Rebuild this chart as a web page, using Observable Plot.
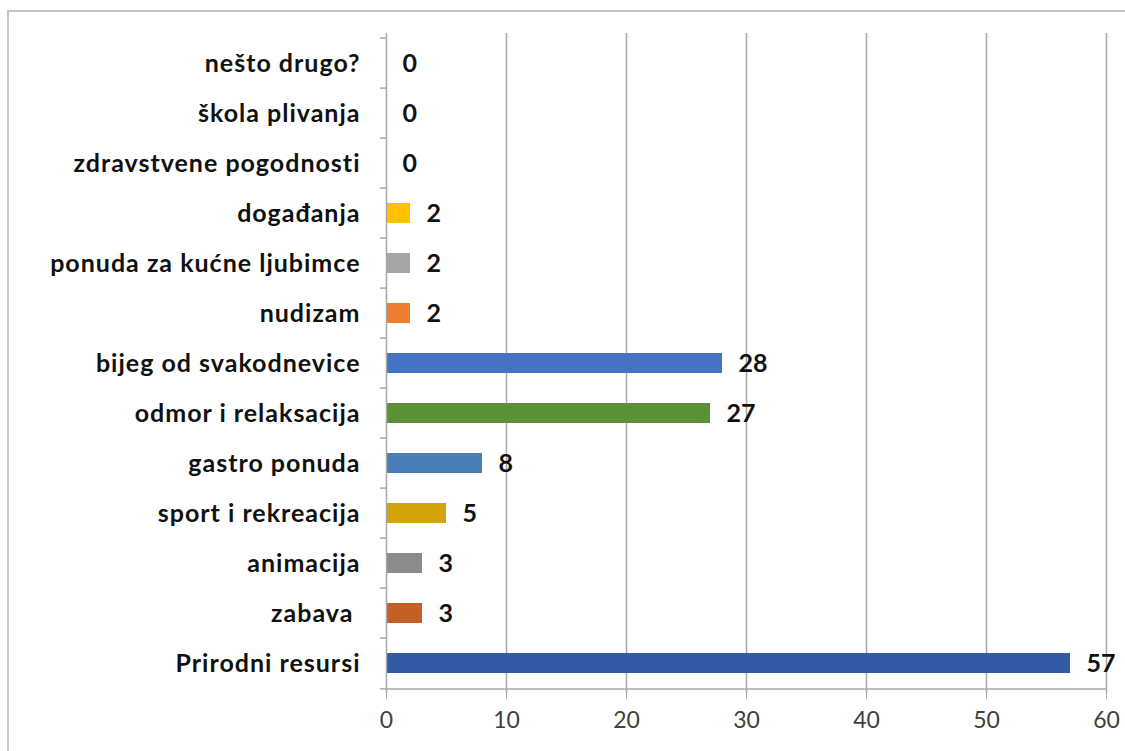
<!DOCTYPE html>
<html>
<head>
<meta charset="utf-8">
<script src="https://cdn.jsdelivr.net/npm/d3@7"></script>
<script src="https://cdn.jsdelivr.net/npm/@observablehq/plot@0.6"></script>
<style>
  html, body { margin: 0; padding: 0; background: #fff; }
  #wrap { position: relative; width: 1125px; height: 751px; overflow: hidden; }
  #frame { position: absolute; left: 7px; top: 10px; width: 1130px; height: 760px;
           border-top: 2px solid #c4c4c4; border-left: 2px solid #c4c4c4; box-sizing: border-box; }
  #chart { position: absolute; left: 0; top: 0; }
  .ylab text { letter-spacing: 1px; }
</style>
</head>
<body>
<div id="wrap"><div id="frame"></div><div id="chart"></div></div>
<script>
const categories = [
  "nešto drugo?", "škola plivanja", "zdravstvene pogodnosti", "događanja",
  "ponuda za kućne ljubimce", "nudizam", "bijeg od svakodnevice",
  "odmor i relaksacija", "gastro ponuda", "sport i rekreacija",
  "animacija", "zabava ", "Prirodni resursi"
];
const values = [0, 0, 0, 2, 2, 2, 28, 27, 8, 5, 3, 3, 57];
const colors = [
  "#4472C4", "#4472C4", "#4472C4", "#FFC000",
  "#A5A5A5", "#ED7D31", "#4472C4",
  "#5A9137", "#4A7DB9", "#D2A40A",
  "#8B8B8B", "#C65F25", "#335AA5"
];
const xTicks = [0, 10, 20, 30, 40, 50, 60];

const data = categories.map((c, i) => ({cat: c, value: values[i], color: colors[i]}));

const W = 1125, H = 751, mt = 33, mb = 58, ml = 386, mr = 19;
const step = (H - mt - mb) / categories.length;
const font = "Lato, 'Open Sans', sans-serif";

const chart = Plot.plot({
  width: W, height: H,
  marginLeft: ml, marginRight: mr, marginTop: mt, marginBottom: mb,
  style: {fontFamily: font, background: "transparent", overflow: "visible"},
  x: {domain: [0, 60], ticks: xTicks, label: null},
  y: {domain: categories, padding: 0.6, paddingOuter: 0.3, align: 0.5, label: null},
  marks: [
    Plot.gridX(xTicks.slice(1), {stroke: "#a8a8a8", strokeOpacity: 1, strokeWidth: 1.5}),
    Plot.barX(data, {x: "value", y: "cat", fill: "color"}),
    Plot.ruleX([0], {stroke: "#a8a8a8", strokeWidth: 1.5}),
    Plot.ruleY(categories, {y: d => d, x1: -0.5, x2: 0, dy: -step / 2, stroke: "#a8a8a8", strokeWidth: 1.5}),
    Plot.ruleY([categories[categories.length - 1]], {y: d => d, x1: -0.5, x2: 0, dy: step / 2, stroke: "#a8a8a8", strokeWidth: 1.5}),
    Plot.ruleY([categories[categories.length - 1]], {y: d => d, x1: 0, x2: 60, dy: step / 2, stroke: "#a8a8a8", strokeWidth: 1.5}),
    Plot.axisX({ticks: xTicks, tickSize: 6, tickPadding: 12, stroke: "#a8a8a8", fill: "#404040", fontSize: 23, tickFormat: d => String(d), label: null}),
    Plot.axisY({tickSize: 0, tickPadding: 26, fill: "#111", fontSize: 25, fontWeight: "bold", label: null, className: "ylab"}),
    Plot.text(data, {x: "value", y: "cat", text: d => String(d.value), dx: 16, textAnchor: "start",
      fontSize: 25, fontWeight: "bold", fill: "#111"})
  ]
});
document.getElementById("chart").appendChild(chart);
</script>
</body>
</html>
